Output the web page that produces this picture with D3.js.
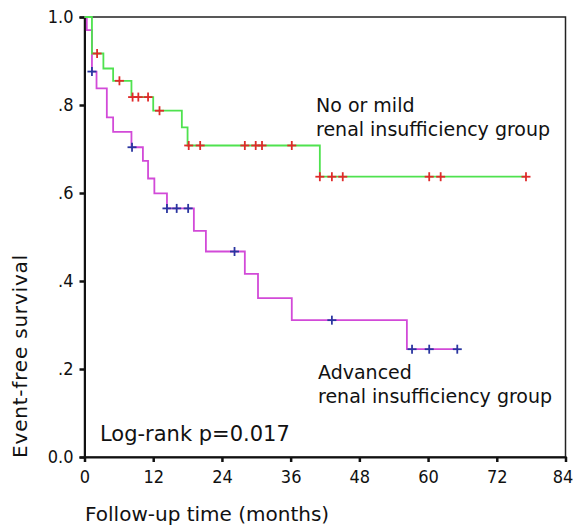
<!DOCTYPE html>
<html>
<head>
<meta charset="utf-8">
<script src="https://cdn.jsdelivr.net/npm/d3@7"></script>
<style>
  html, body { margin: 0; padding: 0; background: #fff; }
  svg { display: block; }
  text { font-family: "DejaVu Sans", sans-serif; fill: #111; }
  .tick text { font-family: "Liberation Sans Narrow", "DejaVu Sans Condensed", sans-serif; font-stretch: condensed; }
</style>
</head>
<body>
<div id="chart"></div>
<script>
const width = 573;
const height = 526;

// No or mild renal insufficiency group (green)
const mildTimes = [0, 1.3, 3.3, 5.0, 8.2, 12.0, 17.0, 18.0, 41.1];
const mildSurv = [1.0, 0.917, 0.883, 0.855, 0.818, 0.787, 0.749, 0.708, 0.637];
const mildEnd = 77.2;
const mildCensor = [2.2, 6.1, 8.4, 9.4, 11.1, 13.1, 18.2, 20.2, 28.0, 29.9, 31.0, 36.2, 41.1, 43.2, 45.1, 60.2, 62.2, 77.1];

// Advanced renal insufficiency group (magenta)
const advTimes = [0, 0.4, 1.3, 2.1, 3.9, 5.0, 8.2, 10.2, 11.1, 12.2, 14.4, 19.1, 21.2, 28.0, 30.3, 36.2, 56.3];
const advSurv = [1.0, 0.970, 0.876, 0.838, 0.772, 0.739, 0.704, 0.673, 0.633, 0.599, 0.565, 0.514, 0.467, 0.416, 0.361, 0.311, 0.245];
const advEnd = 65.2;
const advCensor = [1.3, 8.3, 14.4, 16.1, 18.1, 26.2, 43.2, 57.2, 60.2, 65.1];

const xTicks = [0, 12, 24, 36, 48, 60, 72, 84];
const yTicks = [0, 0.2, 0.4, 0.6, 0.8, 1.0];
const yTickLabels = ["0.0", ".2", ".4", ".6", ".8", "1.0"];

const svg = d3.select("#chart")
    .append("svg")
    .attr("width", width)
    .attr("height", height);

const x = d3.scaleLinear().domain([0, 84]).range([84.5, 565.5]);
const y = d3.scaleLinear().domain([0, 1]).range([457, 17]);

// 外枠
svg.append("rect")
    .attr("x", x(0)).attr("y", y(1))
    .attr("width", x(84) - x(0)).attr("height", y(0) - y(1))
    .attr("fill", "none").attr("stroke", "#222").attr("stroke-width", 1.5);

const xAxis = d3.axisBottom(x).tickValues(xTicks).tickSize(5).tickPadding(8);
const yAxis = d3.axisLeft(y).tickValues(yTicks).tickSize(5).tickPadding(6)
    .tickFormat((d, i) => yTickLabels[i]);

const gx = svg.append("g")
    .attr("transform", `translate(0,${y(0)})`)
    .call(xAxis);
const gy = svg.append("g")
    .attr("transform", `translate(${x(0)},0)`)
    .call(yAxis);

[gx, gy].forEach(g => {
    g.select(".domain").attr("stroke", "#111").attr("stroke-width", 2);
    g.selectAll(".tick line").attr("stroke", "#111").attr("stroke-width", 2.5);
    g.selectAll(".tick text").attr("font-size", 18).attr("fill", "#111");
});
// 右端の "84" がはみ出さないように少し左へ
gx.selectAll(".tick text").filter(d => d === 84).attr("dx", -3);

// 生存曲線
function stepData(times, surv, end) {
    const pts = times.map((t, i) => [t, surv[i]]);
    pts.push([end, surv[surv.length - 1]]);
    return pts;
}

function survAt(times, surv, t) {
    let v = surv[0];
    times.forEach((tt, i) => { if (tt <= t) v = surv[i]; });
    return v;
}

const line = d3.line()
    .x(d => x(d[0]))
    .y(d => y(d[1]))
    .curve(d3.curveStepAfter);

svg.append("path")
    .datum(stepData(advTimes, advSurv, advEnd))
    .attr("d", line)
    .attr("fill", "none")
    .attr("stroke", "#d24ad8")
    .attr("stroke-width", 1.8);

svg.append("path")
    .datum(stepData(mildTimes, mildSurv, mildEnd))
    .attr("d", line)
    .attr("fill", "none")
    .attr("stroke", "#4fe24f")
    .attr("stroke-width", 1.8);

// 打ち切りマーク
function drawCensor(ts, times, surv, color) {
    const s = 4.5;
    const g = svg.append("g").attr("stroke", color).attr("stroke-width", 1.8);
    ts.forEach(t => {
        const cx = x(t), cy = y(survAt(times, surv, t));
        g.append("line").attr("x1", cx - s).attr("x2", cx + s).attr("y1", cy).attr("y2", cy);
        g.append("line").attr("x1", cx).attr("x2", cx).attr("y1", cy - s).attr("y2", cy + s);
    });
}
drawCensor(advCensor, advTimes, advSurv, "#2a35a0");
drawCensor(mildCensor, mildTimes, mildSurv, "#e02a2a");

// 注釈
const labels = [
    {t: "No or mild", x: 316, y: 112},
    {t: "renal insufficiency group", x: 316, y: 136},
    {t: "Advanced", x: 318, y: 379},
    {t: "renal insufficiency group", x: 318, y: 403}
];
labels.forEach(l => {
    svg.append("text").attr("x", l.x).attr("y", l.y)
        .attr("font-size", 19).text(l.t);
});

svg.append("text").attr("x", 100).attr("y", 441)
    .attr("font-size", 21).text("Log-rank p=0.017");

svg.append("text")
    .attr("x", 85).attr("y", 521)
    .attr("font-size", 20)
    .text("Follow-up time (months)");

svg.append("text")
    .attr("transform", `translate(27,356) rotate(-90)`)
    .attr("text-anchor", "middle")
    .attr("font-size", 20)
    .attr("letter-spacing", 0.8)
    .text("Event-free survival");
</script>
</body>
</html>
